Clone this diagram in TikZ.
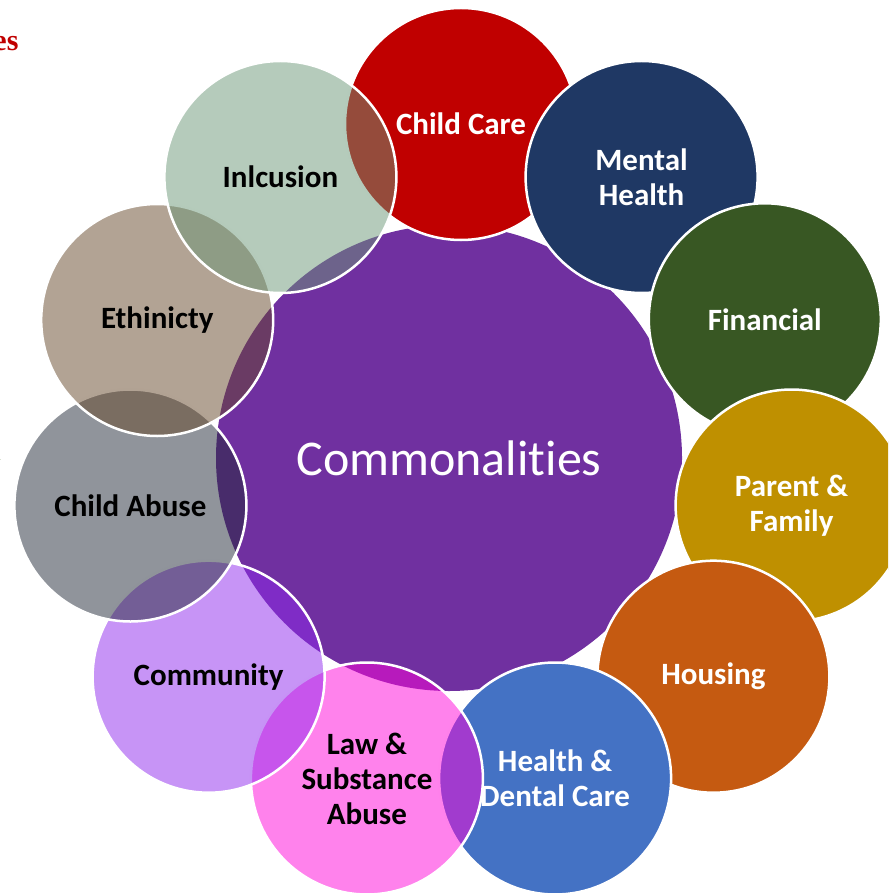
\documentclass[tikz,border=0pt]{standalone}
\usepackage{fontspec}
\newfontfamily\calibfont[Ligatures=NoCommon]{Carlito}
\newfontfamily\seriffont{Liberation Serif}
\definecolor{ccred}{HTML}{C00000}
\definecolor{mhblue}{HTML}{1F3864}
\definecolor{fingreen}{HTML}{385723}
\definecolor{pfgold}{HTML}{BF9000}
\definecolor{hsorange}{HTML}{C55A11}
\definecolor{hdblue}{HTML}{4472C4}
\definecolor{lawpink}{RGB}{255,5,217}
\definecolor{comlilac}{RGB}{143,41,237}
\definecolor{cagray}{RGB}{33,41,55}
\definecolor{ethtan}{RGB}{101,71,41}
\definecolor{incgreen}{RGB}{107,151,119}
\definecolor{commonpurple}{HTML}{7030A0}
\definecolor{lgreen}{RGB}{76,106,40}
\begin{document}
\begin{tikzpicture}[x=1pt,y=-1pt,
    ring/.style={circle,minimum size=232pt,inner sep=0pt,align=center,draw=white,line width=2.5pt,
      font=\calibfont\bfseries\fontsize{31}{35}\selectfont},
    opaquering/.style={ring,fill=#1,text=white},
    glassring/.style={ring,fill=#1,fill opacity=0.5,text opacity=1,text=black}]
    \clip (0,0) rectangle (888,893); % Page frame

    % Cut-off text at the left margin
    \node[anchor=base east,text=ccred,font=\seriffont\bfseries\fontsize{30}{34}\selectfont] (esword) at (22,51) {es};
    \node[anchor=base east,text=lgreen,font=\seriffont\fontsize{34}{40}\selectfont] (lword) at (4.5,460) {l};

    % The big centre circle
    \node[circle,fill=commonpurple,minimum size=466pt,inner sep=0pt,text=white,
      font=\calibfont\fontsize{50}{60}\selectfont] (common) at (449,458) {Commonalities};

    % Solid circles, clockwise from the top
    \node[opaquering=ccred]    (childcare) at (461,124) {Child Care};
    \node[opaquering=mhblue]   (mental)    at (641.6,177) {Mental\\Health};
    \node[opaquering=fingreen] (financial) at (764.8,319.3) {Financial};
    \node[opaquering=pfgold]   (parent)    at (791.6,505.5) {Parent \&\\Family};
    \node[opaquering=hsorange] (housing)   at (713.4,676.7) {Housing};
    \node[opaquering=hdblue]   (health)    at (555.1,778.5) {Health \&\\Dental Care};

    % See-through circles, each on top of the last
    \node[glassring=lawpink]  (law)        at (366.9,778.5) {Law \&\\Substance\\Abuse};
    \node[glassring=comlilac] (community)  at (208.6,676.7) {Community};
    \node[glassring=cagray]   (childabuse) at (130.4,505.5) {Child Abuse};
    \node[glassring=ethtan]   (ethnic)     at (157.2,320) {Ethinicty};
    \node[glassring=incgreen] (inclusion)  at (280.4,177) {Inlcusion};
\end{tikzpicture}
\end{document}
